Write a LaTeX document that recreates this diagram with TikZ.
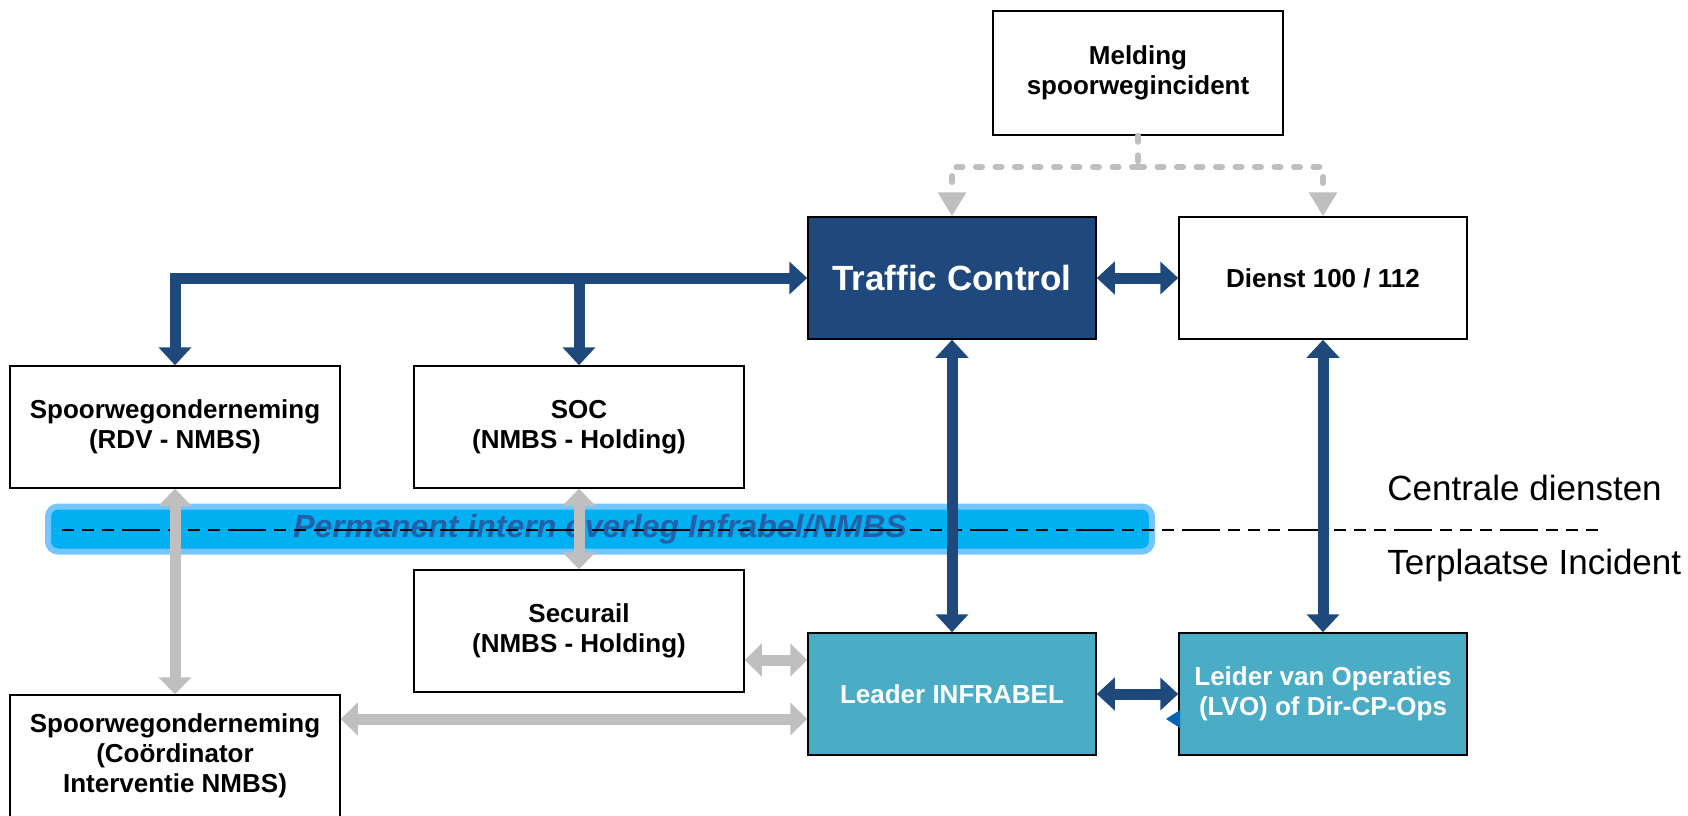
\documentclass[tikz,border=0pt]{standalone}
\usepackage{fontspec}
\setmainfont{Liberation Sans}
\usetikzlibrary{arrows.meta}
\definecolor{tcblue}{RGB}{31,73,125}
\definecolor{ldblue}{RGB}{75,172,198}
\definecolor{arrgray}{RGB}{191,191,191}
\definecolor{barfill}{RGB}{0,176,240}
\definecolor{barline}{RGB}{117,198,255}
\definecolor{bartext}{RGB}{36,96,168}
\definecolor{tipblue}{RGB}{0,102,179}
\tikzset{
 bluetip/.tip={Triangle[width=16pt,length=9pt]},
 graytip/.tip={Triangle[width=16pt,length=8.5pt]},
 dashtip/.tip={Triangle[width=13.5pt,length=12pt]}
}
\begin{document}
\begin{tikzpicture}[x=0.5pt,y=-0.5pt,
 box/.style={draw=black, line width=0.75pt, fill=white, inner sep=0pt, align=center,
   font=\fontsize{13}{15}\selectfont\bfseries, minimum height=61pt},
 wbox/.style={box, minimum width=144pt},
 lbox/.style={box, minimum width=165pt},
 darkbox/.style={fill=tcblue, text=white},
 tealbox/.style={fill=ldblue, text=white},
 bluearrow/.style={draw=tcblue, line width=5.5pt},
 grayarrow/.style={draw=arrgray, line width=5.5pt},
 graydash/.style={draw=arrgray, line width=3pt, line cap=round, dash pattern=on 3pt off 6.75pt},
 blackdash/.style={draw=black, line width=1pt, dash pattern=on 6pt off 4pt on 6pt off 4pt on 6pt off 4pt on 19pt off 4pt},
 sidelabel/.style={anchor=west, inner sep=0pt, font=\fontsize{17.5}{20}\selectfont}
]
\useasboundingbox (0,0) rectangle (1688,815);

% boxes
\node[wbox, minimum width=145pt, minimum height=62pt] (mel) at (1138,73) {Melding\\spoorwegincident};
\node[wbox, darkbox, font=\fontsize{17.5}{20}\selectfont\bfseries] (tc) at (952,278) {Traffic Control};
\node[wbox] (di) at (1323,278) {Dienst 100 / 112};
\node[lbox] (rdv) at (175,427) {Spoorwegonderneming\\(RDV - NMBS)};
\node[lbox] (soc) at (579,427) {SOC\\(NMBS - Holding)};
\node[lbox] (sec) at (579,631) {Securail\\(NMBS - Holding)};
\node[lbox] (co) at (175,756) {Spoorwegonderneming\\(Coördinator\\Interventie NMBS)};
\node[wbox, tealbox] (ld) at (952,694) {Leader INFRABEL};
\node[wbox, tealbox] (lv) at (1323,694) {Leider van Operaties\\(LVO) of Dir-CP-Ops};

% overleg bar
\node[draw=barline, line width=3pt, fill=barfill, rounded corners=5pt, minimum width=552pt,
  minimum height=22.5pt, inner sep=0pt, text=bartext,
  font=\fontsize{16}{19}\selectfont\bfseries\itshape] (bar) at (600,529) {Permanent intern overleg Infrabel/NMBS};

% dashed separator
\coordinate (dl) at (62,530);
\coordinate (dr) at (1599,530);
\draw[blackdash] (dl) -- (dr);

\node[sidelabel] (cd) at (1387,488) {Centrale diensten};
\node[sidelabel] (ti) at (1387,565) {Terplaatse Incident};

% gray dashed from Melding
\coordinate (dj) at (1138,167);
\draw[graydash] (mel.south) -- (dj);
\draw[graydash, -{dashtip}] (dj) -| (tc.north);
\draw[graydash, -{dashtip}] (dj) -| (di.north);

% dark blue arrows
\draw[bluearrow, {bluetip}-{bluetip}] (rdv.north) |- (tc.west);
\coordinate (sj) at (579,278);
\draw[bluearrow, -{bluetip}] (sj) -- (soc.north);
\draw[bluearrow, {bluetip}-{bluetip}] (tc.east) -- (di.west);
\draw[bluearrow, {bluetip}-{bluetip}] (tc.south) -- (ld.north);
\draw[bluearrow, {bluetip}-{bluetip}] (di.south) -- (lv.north);
\draw[bluearrow, {bluetip}-{bluetip}] (ld.east) -- (lv.west);
\fill[tipblue] (1166,719) -- (1180,710) -- (1180,728) -- cycle;

% gray arrows
\draw[grayarrow, {graytip}-{graytip}] (rdv.south) -- (co.north);
\draw[grayarrow, {graytip}-{graytip}] (soc.south) -- (sec.north);
\coordinate (s1) at ([yshift=-14.5pt]sec.east);
\draw[grayarrow, {graytip}-{graytip}] (s1) -- (s1 -| ld.west);
\coordinate (c1) at ([yshift=18.5pt]co.east);
\draw[grayarrow, {graytip}-{graytip}] (c1) -- (c1 -| ld.west);
\end{tikzpicture}
\end{document}
